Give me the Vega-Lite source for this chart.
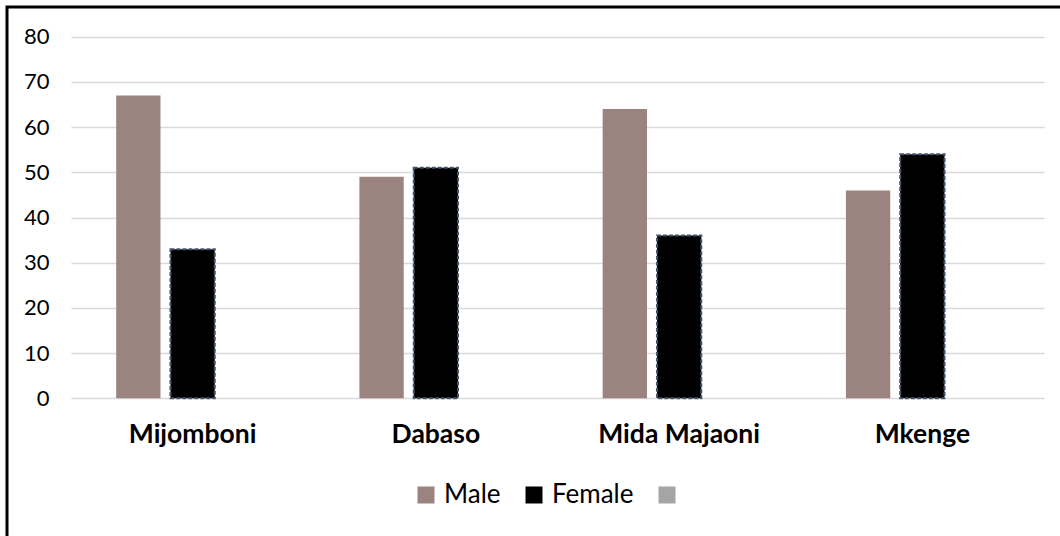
{
  "$schema": "https://vega.github.io/schema/vega-lite/v6.json",
  "width": 1053,
  "height": 529,
  "autosize": {"type": "none"},
  "padding": {"left": 7, "top": 7, "right": 0, "bottom": 0},
  "background": "white",
  "config": {
    "view": {"stroke": "#000000", "strokeWidth": 3, "strokeDash": [1053, 1582, 529, 10]},
    "font": "Lato"
  },
  "data": {
    "values": [
      {"site": "Mijomboni", "series": "Male", "value": 67},
      {"site": "Mijomboni", "series": "Female", "value": 33},
      {"site": "Dabaso", "series": "Male", "value": 49},
      {"site": "Dabaso", "series": "Female", "value": 51},
      {"site": "Mida Majaoni", "series": "Male", "value": 64},
      {"site": "Mida Majaoni", "series": "Female", "value": 36},
      {"site": "Mkenge", "series": "Male", "value": 46},
      {"site": "Mkenge", "series": "Female", "value": 54}
    ]
  },
  "mark": {"type": "bar"},
  "encoding": {
    "x": {
      "field": "site",
      "type": "nominal",
      "sort": ["Mijomboni", "Dabaso", "Mida Majaoni", "Mkenge"],
      "scale": {"range": [64, 1037], "paddingInner": 0, "paddingOuter": 0},
      "axis": {
        "title": null,
        "orient": "bottom",
        "offset": -137.7,
        "domain": false,
        "ticks": false,
        "tickSize": 0,
        "labelAngle": 0,
        "labelFont": "Lato",
        "labelFontSize": 26.5,
        "labelFontWeight": "bold",
        "labelColor": "#000000",
        "labelPadding": 23
      }
    },
    "xOffset": {
      "field": "series",
      "type": "nominal",
      "scale": {"domain": ["Male", "Female", ""], "paddingInner": 0.184, "paddingOuter": 0.832}
    },
    "y": {
      "field": "value",
      "type": "quantitative",
      "scale": {"domain": [0, 80], "nice": false, "range": [391.3, 29.7]},
      "axis": {
        "title": null,
        "orient": "left",
        "offset": -64,
        "domain": false,
        "ticks": false,
        "tickSize": 0,
        "values": [0, 10, 20, 30, 40, 50, 60, 70, 80],
        "labelFont": "Lato",
        "labelFontSize": 22,
        "labelColor": "#000000",
        "labelPadding": 22,
        "grid": true,
        "gridColor": "#d9d9d9",
        "gridWidth": 1.5
      }
    },
    "color": {
      "field": "series",
      "type": "nominal",
      "scale": {"domain": ["Male", "Female", ""], "range": ["#9b837f", "#000000", "#a5a5a5"]},
      "legend": {
        "title": null,
        "orient": "none",
        "legendX": 406,
        "legendY": 475,
        "direction": "horizontal",
        "padding": 0,
        "symbolType": "square",
        "symbolSize": 289,
        "symbolStrokeWidth": 2,
        "labelFont": "Lato",
        "labelFontSize": 26,
        "labelColor": "#000000",
        "labelOffset": 5,
        "columnPadding": 20,
        "encode": {
          "symbols": {
            "update": {
              "stroke": [{"test": "datum.value === 'Female'", "value": "#44546a"}, {"value": "transparent"}],
              "strokeDash": [{"test": "datum.value === 'Female'", "value": [3, 1.5]}, {"value": [1, 0]}],
              "strokeWidth": {"value": 2}
            }
          }
        }
      }
    },
    "stroke": {
      "condition": {"test": "datum.series === 'Female'", "value": "#44546a"},
      "value": null
    },
    "strokeWidth": {"value": 2},
    "strokeDash": {
      "condition": {"test": "datum.series === 'Female'", "value": [4, 2]},
      "value": [1, 0]
    }
  }
}
